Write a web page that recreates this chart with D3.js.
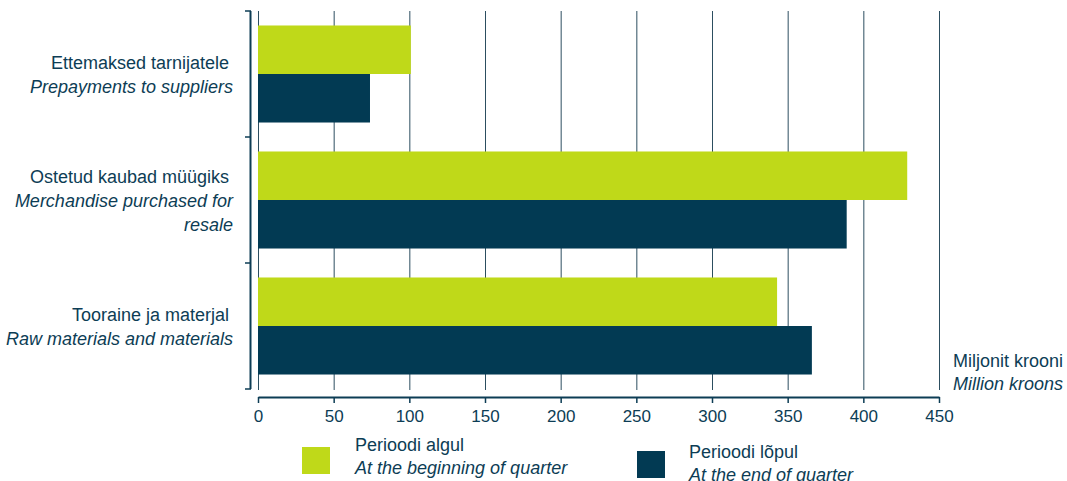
<!DOCTYPE html>
<html>
<head>
<meta charset="utf-8">
<script src="https://cdn.jsdelivr.net/npm/d3@7"></script>
<style>
  body { margin: 0; background: #fff; }
  text { font-family: "Liberation Sans", Arial, sans-serif; fill: #0d3d55; }
</style>
</head>
<body>
<div id="chart"></div>
<script>
// categories: estonian + english lines
var categories = ["prepay", "merch", "raw"];
var labelsEt = ["Ettemaksed tarnijatele", "Ostetud kaubad müügiks", "Tooraine ja materjal"];
var labelsEn = [["Prepayments to suppliers"], ["Merchandise purchased for", "resale"], ["Raw materials and materials"]];
var seriesNames = ["Perioodi algul", "Perioodi lõpul"];
var seriesNamesEn = ["At the beginning of quarter", "At the end of quarter"];
var beginValues = [101, 429, 343];
var endValues = [74, 389, 366];
var ticks = [0, 50, 100, 150, 200, 250, 300, 350, 400, 450];
var colors = ["#bfd919", "#023a53"];

var width = 1067, height = 481;
var svg = d3.select("#chart").append("svg")
  .attr("width", width).attr("height", height);

var x = d3.scaleLinear().domain([0, 450]).range([258, 939]);
var y = d3.scaleBand().domain(categories).range([11, 389]).paddingInner(0.23).paddingOuter(0.115);
var ySub = d3.scaleBand().domain([0, 1]).range([0, y.bandwidth()]);

// gridlines
svg.append("g").selectAll("line")
  .data(ticks)
  .enter().append("line")
  .attr("x1", function(d) { return x(d) + 0.5; })
  .attr("x2", function(d) { return x(d) + 0.5; })
  .attr("y1", 11).attr("y2", 390)
  .style("stroke", "#2c4e60").style("stroke-width", 1);

// bars
var groups = svg.append("g").selectAll("g")
  .data(categories)
  .enter().append("g")
  .attr("transform", function(d) { return "translate(0," + y(d) + ")"; });

groups.selectAll("rect")
  .data(function(d, i) { return [beginValues[i], endValues[i]]; })
  .enter().append("rect")
  .attr("x", x(0))
  .attr("y", function(d, j) { return ySub(j); })
  .attr("width", function(d) { return x(d) - x(0); })
  .attr("height", ySub.bandwidth())
  .attr("fill", function(d, j) { return colors[j]; });

// left axis with category separators
var leftAxis = svg.append("g");
leftAxis.append("line")
  .attr("x1", 250.5).attr("x2", 250.5).attr("y1", 11).attr("y2", 389)
  .style("stroke", "#0d3d55").style("stroke-width", 2);
var sep = [11, 11 + 126, 11 + 252, 389];
leftAxis.selectAll(".sep")
  .data(sep)
  .enter().append("line")
  .attr("x1", 245).attr("x2", 251)
  .attr("y1", function(d) { return d; }).attr("y2", function(d) { return d; })
  .style("stroke", "#0d3d55").style("stroke-width", 1.5);

// category labels
var labels = svg.append("g").selectAll("text")
  .data(categories)
  .enter().append("text")
  .attr("text-anchor", "end")
  .style("font-size", "18px")
  .attr("transform", function(d, i) {
    var n = 1 + labelsEn[i].length;
    var cy = y(d) + y.bandwidth() / 2 - (n - 1) * 12 + 7;
    return "translate(233," + cy + ")";
  });
labels.append("tspan")
  .attr("x", -4).attr("y", 0)
  .text(function(d, i) { return labelsEt[i]; });
labels.each(function(d, i) {
  var t = d3.select(this);
  labelsEn[i].forEach(function(line, k) {
    t.append("tspan").attr("x", 0).attr("y", 24 * (k + 1))
      .style("font-style", "italic").text(line);
  });
});

// bottom axis
var xAxis = d3.axisBottom(x).tickValues(ticks).tickSize(6).tickSizeOuter(0);
var gx = svg.append("g").attr("transform", "translate(0,397)").call(xAxis);
gx.select(".domain").style("stroke", "#0d3d55").style("stroke-width", 2);
gx.selectAll(".tick line").style("stroke", "#0d3d55").style("stroke-width", 1.5);
gx.selectAll(".tick text")
  .attr("y", 13)
  .style("font-size", "17px")
  .style("font-family", "'Liberation Sans', Arial, sans-serif")
  .style("fill", "#0d3d55");

// unit label
var unit = svg.append("text").style("font-size", "18px");
unit.append("tspan").attr("x", 953).attr("y", 367).text("Miljonit krooni");
unit.append("tspan").attr("x", 953).attr("y", 390).style("font-style", "italic").text("Million kroons");

// legend
var legendPos = [{sx: 302, sy: 447, tx: 355, ty: 451}, {sx: 637, sy: 451, tx: 689, ty: 458}];
var legend = svg.append("g").selectAll("g")
  .data(seriesNames)
  .enter().append("g");
legend.append("rect")
  .attr("x", function(d, i) { return legendPos[i].sx; })
  .attr("y", function(d, i) { return legendPos[i].sy; })
  .attr("width", 28).attr("height", 27)
  .attr("fill", function(d, i) { return colors[i]; });
legend.append("text")
  .attr("x", function(d, i) { return legendPos[i].tx; })
  .attr("y", function(d, i) { return legendPos[i].ty; })
  .style("font-size", "18px")
  .text(function(d) { return d; });
legend.append("text")
  .attr("x", function(d, i) { return legendPos[i].tx; })
  .attr("y", function(d, i) { return legendPos[i].ty + 23; })
  .style("font-size", "18px").style("font-style", "italic")
  .text(function(d, i) { return seriesNamesEn[i]; });
</script>
</body>
</html>
